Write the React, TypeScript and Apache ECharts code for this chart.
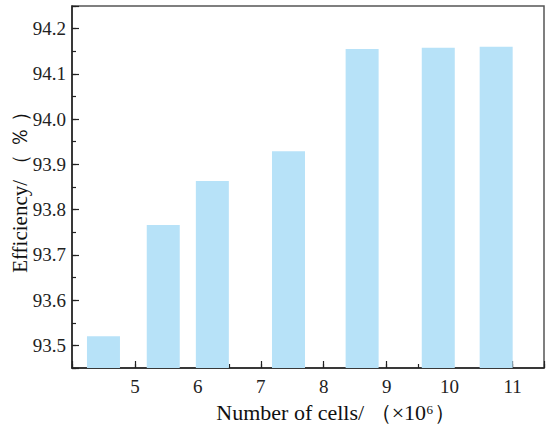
import React, { useEffect, useRef } from "react";
import * as echarts from "echarts";

const cellsX = [4.5, 5.45, 6.23, 7.44, 8.61, 9.82, 10.74];
const efficiency = [93.52, 93.766, 93.863, 93.929, 94.155, 94.158, 94.16];
const xTickValues = [5, 6, 7, 8, 9, 10, 11];
const yTickValues = [93.5, 93.6, 93.7, 93.8, 93.9, 94.0, 94.1, 94.2];
const xTitle = "Number of cells/ （×10⁶）";
const yTitle = "Efficiency/ （ ％ ）";

const FONT = "Liberation Serif";
const X_MIN = 4;
const Y_MIN = 93.45;

export default function App() {
  const ref = useRef<HTMLDivElement>(null);
  useEffect(() => {
    document.body.style.margin = "0";
    if (!ref.current) return;
    const chart = echarts.init(ref.current, undefined, { renderer: "svg" });
    const data = cellsX.map((x, i) => [x, efficiency[i]]);
    chart.setOption({
      animation: false,
      backgroundColor: "#ffffff",
      textStyle: { fontFamily: FONT },
      grid: {
        left: 72,
        top: 6,
        right: 6,
        bottom: 60,
        outerBoundsMode: "none",
        containLabel: false,
        show: true,
        borderColor: "#555",
        borderWidth: 1.5,
        backgroundColor: "transparent",
      },
      xAxis: [
        {
          type: "value",
          min: X_MIN,
          max: 11.5,
          interval: 1,
          position: "bottom",
          name: xTitle,
          nameLocation: "middle",
          nameGap: 33,
          nameTextStyle: { fontFamily: FONT, fontSize: 22, color: "#111", padding: [0, 0, 0, 56] },
          axisLine: { show: true, onZero: false, lineStyle: { color: "#222", width: 1.5 } },
          axisTick: { show: true, inside: true, length: 7, lineStyle: { color: "#222", width: 1.2 } },
          axisLabel: { show: false },
          splitLine: { show: false },
        },
        {
          type: "value",
          min: X_MIN,
          max: 11.5,
          interval: 0.5,
          position: "bottom",
          axisLine: { show: false, onZero: false },
          axisTick: { show: true, inside: true, length: 4, lineStyle: { color: "#222", width: 1.2 } },
          axisLabel: { show: false },
          splitLine: { show: false },
        },
      ],
      yAxis: [
        {
          type: "value",
          min: Y_MIN,
          max: 94.25,
          splitNumber: 8,
          position: "left",
          name: yTitle,
          nameLocation: "middle",
          nameGap: 42,
          nameTextStyle: { fontFamily: FONT, fontSize: 21, color: "#111" },
          axisLine: { show: true, onZero: false, lineStyle: { color: "#222", width: 1.5 } },
          axisTick: { show: true, inside: true, length: 7, lineStyle: { color: "#222", width: 1.2 } },
          axisLabel: { show: false },
          splitLine: { show: false },
        },
        {
          type: "value",
          min: Y_MIN,
          max: 94.25,
          interval: 0.05,
          position: "left",
          axisLine: { show: false, onZero: false },
          axisTick: { show: true, inside: true, length: 4, lineStyle: { color: "#222", width: 1.2 } },
          axisLabel: { show: false },
          splitLine: { show: false },
        },
      ],
      series: [
        {
          type: "bar",
          xAxisIndex: 0,
          yAxisIndex: 0,
          data,
          barWidth: 33,
          itemStyle: { color: "#B7E2F8" },
          z: 1,
        },
      ],
    });

    const finder = { xAxisIndex: 0, yAxisIndex: 0 };
    const labelStyle = { fontFamily: FONT, fontSize: 19, fill: "#222" };
    const graphics: any[] = [];
    xTickValues.forEach((v) => {
      const p = chart.convertToPixel(finder, [v, Y_MIN]) as number[];
      graphics.push({
        type: "text",
        x: p[0],
        y: p[1] + 9,
        style: { ...labelStyle, text: String(v), textAlign: "center", textVerticalAlign: "top" },
      });
    });
    yTickValues.forEach((v) => {
      const p = chart.convertToPixel(finder, [X_MIN, v]) as number[];
      graphics.push({
        type: "text",
        x: p[0] - 6,
        y: p[1],
        style: { ...labelStyle, text: v.toFixed(1), textAlign: "right", textVerticalAlign: "middle" },
      });
    });
    chart.setOption({ graphic: graphics });

    return () => chart.dispose();
  }, []);
  return <div ref={ref} style={{ width: 550, height: 428 }} />;
}
